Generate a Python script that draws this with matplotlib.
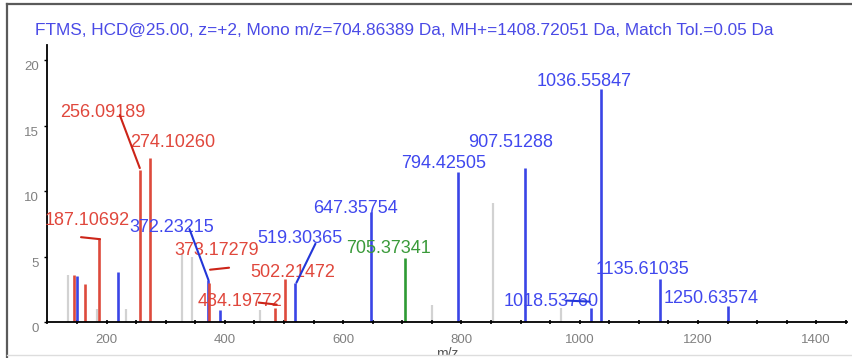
import numpy as np
import matplotlib
matplotlib.use("Agg")
import matplotlib.pyplot as plt
import matplotlib.transforms as mtransforms
from matplotlib.patches import Rectangle
from matplotlib.lines import Line2D

plt.rcParams['font.family'] = ['Liberation Sans', 'DejaVu Sans']

# annotated fragment peaks
label_mz = [187.10692, 256.09189, 274.10260, 372.23215, 373.17279, 484.19772,
            502.21472, 519.30365, 647.35754, 705.37341, 794.42505, 907.51288,
            1018.53760, 1036.55847, 1135.61035, 1250.63574]
label_int = [6.4, 11.6, 12.5, 3.2, 3.0, 1.1, 3.3, 3.0, 8.4, 4.9, 11.45, 11.75,
             1.1, 17.8, 3.3, 1.2]
label_ion = ['b', 'b', 'b', 'y', 'b', 'b', 'b', 'y', 'y', 'M', 'y', 'y',
             'y', 'y', 'y', 'y']

# other peaks (matched without label, and unmatched)
other_mz = [134, 144, 150, 163, 184, 220, 232, 328, 345, 391, 459, 751, 854, 968]
other_int = [3.6, 3.6, 3.5, 2.9, 1.0, 3.8, 1.0, 5.3, 5.0, 0.9, 0.9, 1.3, 9.1, 1.1]
other_ion = ['-', 'b', 'y', 'b', '-', 'y', '-', '-', '-', 'y', '-', '-', '-', '-']

title = ("FTMS, HCD@25.00, z=+2, Mono m/z=704.86389 Da, MH+=1408.72051 Da, "
         "Match Tol.=0.05 Da")

line_col = {'b': '#dd4a3c', 'y': '#3a45e6', 'M': '#2e9a34', '-': '#d2d2d2'}
text_col = {'b': '#e0473c', 'y': '#4048ee', 'M': '#3a9a3a'}
lead_col = {'b': '#cc2418', 'y': '#2336d8'}

# label placement (pixels from peak top) and leader lines (start, end)
label_off = [(-12, 18), (-37, 58), (22, 16), (-37, 53), (8, 32), (-35, 6),
             (7, 6), (4, 44), (-16, 3), (-17, 9), (-15, 9), (-14, 26),
             (-39, 6), (-17, 7), (-17, 9), (-17, 8)]
leaders = {0: ((-18, 1), (1, -1)), 1: ((-20, 55), (0, 2)),
           3: ((-19, 51), (0, 0)), 4: ((20, 15), (1, 13)),
           5: ((-16, 5), (2, 3)), 7: ((20, 39), (1, 0)),
           12: ((-24, 7), (-1, 6))}

fig = plt.figure(figsize=(8.53, 3.58), dpi=100)
ax = fig.add_axes([47.5/853, 36/358, (847-47.5)/853, 277/358])

for mz, h, ion in zip(other_mz, other_int, other_ion):
    ax.vlines(mz, 0, h, color=line_col[ion], lw=1.6 if ion == '-' else 1.9,
              zorder=1 if ion == '-' else 2)
for mz, h, ion in zip(label_mz, label_int, label_ion):
    ax.vlines(mz, 0, h, color=line_col[ion], lw=1.9, zorder=2)

for i, (mz, h, ion) in enumerate(zip(label_mz, label_int, label_ion)):
    dx, dy = label_off[i]
    ax.annotate(f"{mz:.5f}", xy=(mz, h), xytext=(dx, dy),
                textcoords='offset pixels', ha='center', va='center',
                fontsize=13, color=text_col[ion], zorder=3)
    if i in leaders:
        (sx, sy), (ex, ey) = leaders[i]
        tr = mtransforms.offset_copy(ax.transData, fig=fig, x=ex, y=ey,
                                     units='dots')
        ax.annotate('', xy=(mz, h), xycoords=tr, xytext=(sx-ex, sy-ey),
                    textcoords='offset pixels',
                    arrowprops=dict(arrowstyle='-', color=lead_col[ion],
                                    lw=1.5, shrinkA=0, shrinkB=0), zorder=4)

ax.set_xlim(100, 1452)
ax.set_ylim(0, 21.15)
ax.set_xticks(np.arange(200, 1401, 200))
ax.set_xticks(np.arange(100, 1451, 50), minor=True)
ax.set_yticks([0, 5, 10, 15, 20])
for s in ['top', 'right']:
    ax.spines[s].set_visible(False)
for s in ['left', 'bottom']:
    ax.spines[s].set_linewidth(1.3)
ax.tick_params(axis='x', which='both', direction='inout', length=3, width=1.2,
               labelsize=9.5, labelcolor='#808080', pad=7)
ax.tick_params(axis='y', direction='out', length=2, width=1,
               labelsize=9.5, labelcolor='#808080', pad=4)
off = mtransforms.ScaledTranslation(0, -4/72, fig.dpi_scale_trans)
for lab in ax.get_yticklabels():
    lab.set_transform(lab.get_transform() + off)
ax.set_xlabel('m/z', fontsize=10, color='#555555', labelpad=1)

fig.text(35/853, 1 - 30/358, title, ha='left', va='center', fontsize=12.45,
         color='#4a4ae6')

# screenshot frame
fig.patches.append(Rectangle((0, 0), 1, 3/358, transform=fig.transFigure,
                             facecolor='white', edgecolor='none', zorder=10))
fig.lines.append(Line2D([7.5/853, 7.5/853], [0, 1 - 4/358], transform=fig.transFigure,
                        color='#5a5a5a', lw=1.6, zorder=11))
fig.lines.append(Line2D([7.5/853, 1], [1 - 4/358, 1 - 4/358], transform=fig.transFigure,
                        color='#5a5a5a', lw=1.6, zorder=11))
fig.lines.append(Line2D([7.5/853, 1], [3/358, 3/358], transform=fig.transFigure,
                        color='#dddddd', lw=1.0, zorder=11))

fig.savefig('out.png', dpi=100)
